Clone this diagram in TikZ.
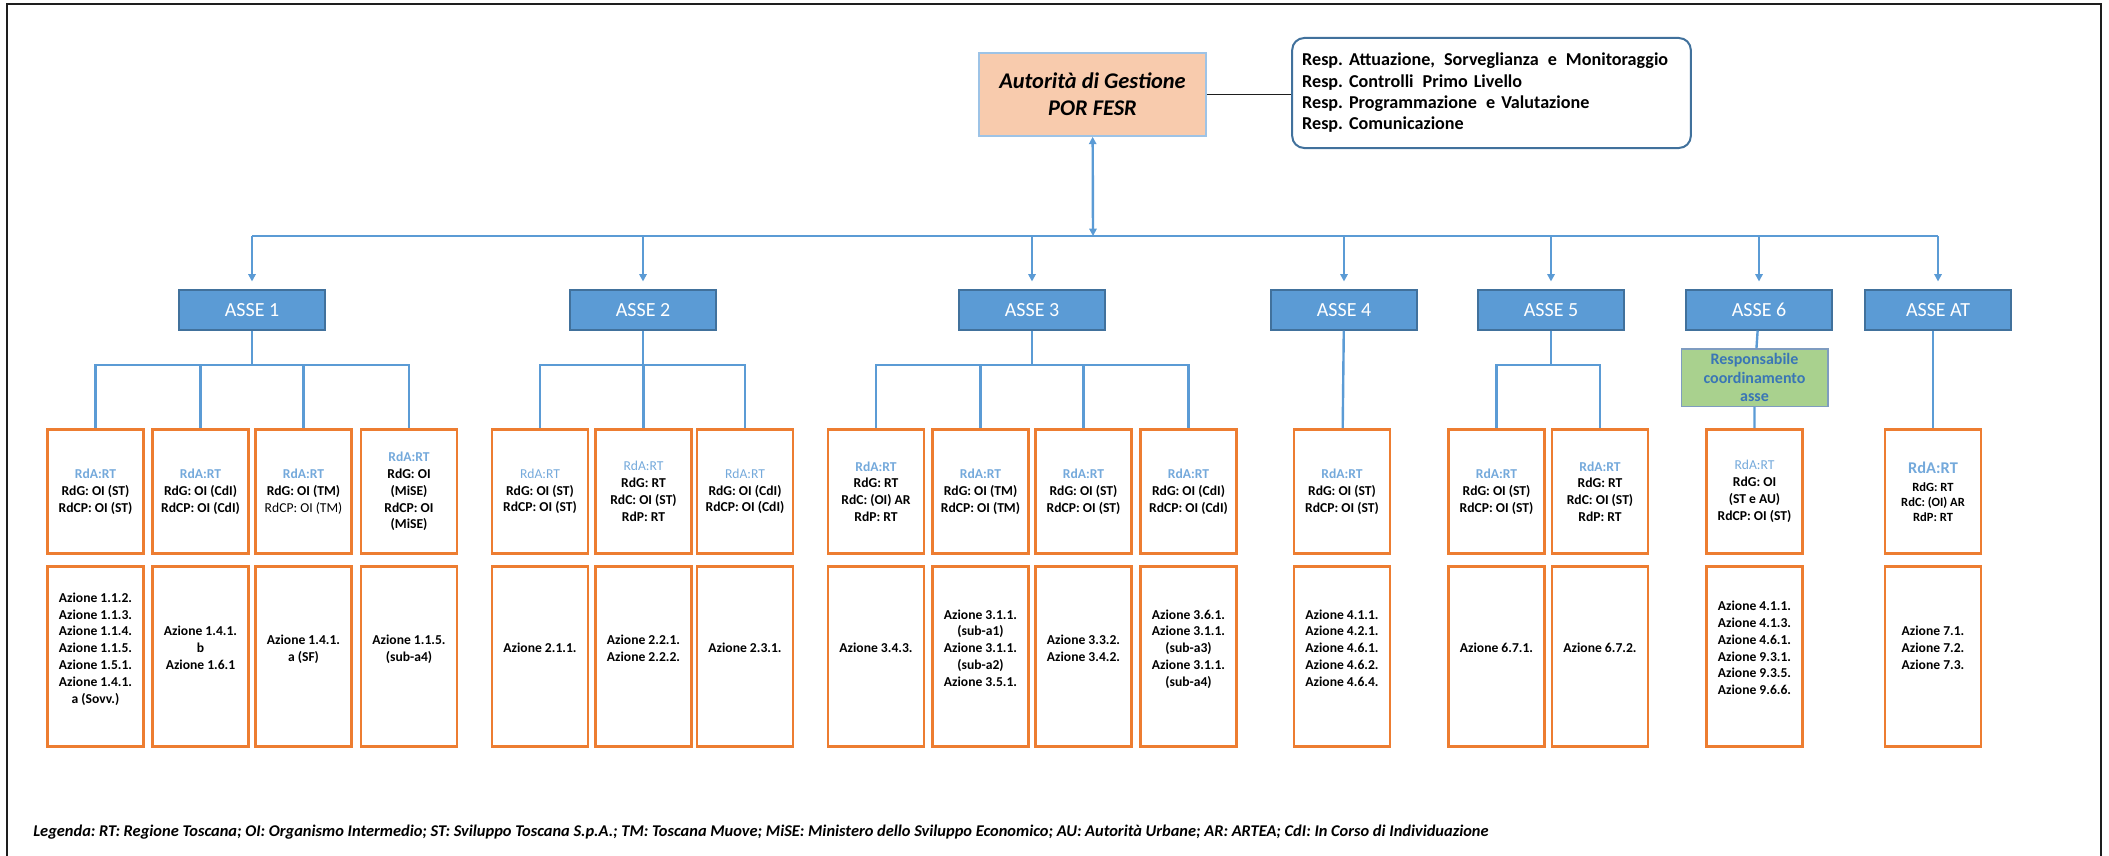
\documentclass[tikz,border=0pt]{standalone}
\usepackage{fontspec}
\setmainfont{Carlito}
\usetikzlibrary{arrows.meta}
\definecolor{lineblue}{HTML}{5B9BD5}
\definecolor{asseborder}{HTML}{41719C}
\definecolor{boxorange}{HTML}{ED7D31}
\definecolor{rdablue}{HTML}{74A9DB}
\definecolor{adgfill}{HTML}{F8CBAD}
\definecolor{adgborder}{HTML}{9DC3E6}
\definecolor{greenfill}{HTML}{A9D18E}
\definecolor{greenborder}{HTML}{7F9CC0}
\definecolor{greentext}{HTML}{3A76B5}
\definecolor{framegray}{HTML}{1E1E1E}
\frenchspacing
\newcommand{\rda}{\textcolor{rdablue}{RdA:RT}}
\newcommand{\rdalight}{\textcolor{rdablue}{\mdseries RdA:RT}}
\tikzset{link/.style={draw=lineblue, line width=1.8pt},
    asse/.style={draw=asseborder, fill=lineblue, text=white, line width=0.8pt,
        minimum width=109.5pt, minimum height=30pt, font=\fontsize{15}{18}\selectfont},
    rbox/.style={draw=boxorange, line width=2.2pt, minimum width=72pt, minimum height=93pt,
        inner sep=1pt, align=center, font=\bfseries\fontsize{10.2}{12.6}\selectfont},
    abox/.style={rbox, minimum height=135pt, text depth=13pt},
    }

\begin{document}
\begin{tikzpicture}[x=0.75pt,y=-0.75pt,>={Triangle[length=5.5pt,width=5.5pt]}]
	\useasboundingbox (0,0) rectangle (2109,856);
	\draw[framegray, line width=1.1pt] (7,856) -- (7,4) -- (2101,4) -- (2101,856);
	\tikzset{adg/.style={draw=adgborder, fill=adgfill, line width=1.5pt, minimum width=170pt,
	        minimum height=62pt, align=center, font=\bfseries\itshape\fontsize{16.8}{20.4}\selectfont},
	    resp/.style={draw=asseborder, line width=1.5pt, rounded corners=9pt, minimum height=82.5pt,
	        text width=284pt, inner xsep=7.5pt, align=left, font=\bfseries\fontsize{13.6}{16}\selectfont},
	    green/.style={draw=greenborder, fill=greenfill, line width=1pt, minimum width=110pt,
	        minimum height=43pt, inner sep=0pt, align=center, text=greentext,
	        font=\bfseries\fontsize{12}{13.8}\selectfont}}
	% vertice
	\node[adg] (adg) at (1092.5,94.5) {Autorità di Gestione\\POR FESR};
	\node[resp] (resp) at (1491.5,93) {Resp. Attuazione,\, Sorveglianza\, e\, Monitoraggio\\
		Resp. Controlli\, Primo Livello\\Resp. Programmazione\, e Valutazione\\Resp. Comunicazione};
	\draw[framegray, line width=0.8pt] (adg.east) -- (adg.east -| resp.west);
	% assi
	\node[asse] (asse1) at (252,310) {ASSE 1};
	\node[asse] (asse2) at (643,310) {ASSE 2};
	\node[asse] (asse3) at (1032,310) {ASSE 3};
	\node[asse] (asse4) at (1344,310) {ASSE 4};
	\node[asse] (asse5) at (1551,310) {ASSE 5};
	\node[asse] (asse6) at (1759,310) {ASSE 6};
	\node[asse] (asseAT) at (1938,310) {ASSE AT};
	\node[green] (resp6) at (1754.5,377.5) {Responsabile\\coordinamento\\asse};
	% RdA / RdG
	\node[rbox] (r11) at (95.5,491.5) {\rda\\RdG: OI (ST)\\RdCP: OI (ST)};
	\node[rbox] (r12) at (200.5,491.5) {\rda\\RdG: OI (CdI)\\RdCP: OI (CdI)};
	\node[rbox] (r13) at (303.5,491.5) {\rda\\RdG: OI (TM)\\{\mdseries RdCP: OI (TM)}};
	\node[rbox] (r14) at (409,491.5) {\rda\\RdG: OI\\(MiSE)\\RdCP: OI\\(MiSE)};
	\node[rbox] (r21) at (540,491.5) {\rdalight\\RdG: OI (ST)\\RdCP: OI (ST)};
	\node[rbox] (r22) at (643.5,491.5) {\rdalight\\RdG: RT\\RdC: OI (ST)\\RdP: RT};
	\node[rbox] (r23) at (745,491.5) {\rdalight\\RdG: OI (CdI)\\RdCP: OI (CdI)};
	\node[rbox] (r31) at (876,491.5) {\rda\\RdG: RT\\RdC: (OI) AR\\RdP: RT};
	\node[rbox] (r32) at (980.5,491.5) {\rda\\RdG: OI (TM)\\RdCP: OI (TM)};
	\node[rbox] (r33) at (1083.5,491.5) {\rda\\RdG: OI (ST)\\RdCP: OI (ST)};
	\node[rbox] (r34) at (1188.5,491.5) {\rda\\RdG: OI (CdI)\\RdCP: OI (CdI)};
	\node[rbox] (r41) at (1342,491.5) {\rda\\RdG: OI (ST)\\RdCP: OI (ST)};
	\node[rbox] (r51) at (1496.5,491.5) {\rda\\RdG: OI (ST)\\RdCP: OI (ST)};
	\node[rbox] (r52) at (1600,491.5) {\rda\\RdG: RT\\RdC: OI (ST)\\RdP: RT};
	\node[rbox] (r61) at (1754.5,491.5) {\rdalight\\RdG: OI\\(ST e AU)\\RdCP: OI (ST)};
	\node[rbox, font=\bfseries\fontsize{9.4}{11.3}\selectfont] (rAT) at (1933,491.5)
		{{\fontsize{12.3}{14}\selectfont\rda}\\[2pt]RdG: RT\\RdC: (OI) AR\\RdP: RT};
	% azioni
	\node[abox] (a11) at (95.5,656.5) {Azione 1.1.2.\\Azione 1.1.3.\\Azione 1.1.4.\\Azione 1.1.5.\\
		Azione 1.5.1.\\Azione 1.4.1.\\a (Sovv.)};
	\node[abox] (a12) at (200.5,656.5) {Azione 1.4.1.\\b\\Azione 1.6.1};
	\node[abox] (a13) at (303.5,656.5) {Azione 1.4.1.\\a (SF)};
	\node[abox] (a14) at (409,656.5) {Azione 1.1.5.\\(sub-a4)};
	\node[abox] (a21) at (540,656.5) {Azione 2.1.1.};
	\node[abox] (a22) at (643.5,656.5) {Azione 2.2.1.\\Azione 2.2.2.};
	\node[abox] (a23) at (745,656.5) {Azione 2.3.1.};
	\node[abox] (a31) at (876,656.5) {Azione 3.4.3.};
	\node[abox] (a32) at (980.5,656.5) {Azione 3.1.1.\\(sub-a1)\\Azione 3.1.1.\\(sub-a2)\\Azione 3.5.1.};
	\node[abox] (a33) at (1083.5,656.5) {Azione 3.3.2.\\Azione 3.4.2.};
	\node[abox] (a34) at (1188.5,656.5) {Azione 3.6.1.\\Azione 3.1.1.\\(sub-a3)\\Azione 3.1.1.\\(sub-a4)};
	\node[abox] (a41) at (1342,656.5) {Azione 4.1.1.\\Azione 4.2.1.\\Azione 4.6.1.\\Azione 4.6.2.\\Azione 4.6.4.};
	\node[abox] (a51) at (1496.5,656.5) {Azione 6.7.1.};
	\node[abox] (a52) at (1600,656.5) {Azione 6.7.2.};
	\node[abox] (a61) at (1754.5,656.5) {Azione 4.1.1.\\Azione 4.1.3.\\Azione 4.6.1.\\Azione 9.3.1.\\
		Azione 9.3.5.\\Azione 9.6.6.};
	\node[abox] (aAT) at (1933,656.5) {Azione 7.1.\\Azione 7.2.\\Azione 7.3.};
	% legenda
	\node[anchor=west, inner sep=0pt, font=\bfseries\itshape\fontsize{12.3}{14}\selectfont] (leg) at (33,832)
		{Legenda: RT: Regione Toscana; OI: Organismo Intermedio; ST: Sviluppo Toscana S.p.A.; TM: Toscana Muove; MiSE: Ministero dello Sviluppo Economico; AU: Autorità Urbane; AR: ARTEA; CdI: In Corso di Individuazione};
	% collegamenti
	\coordinate (bus) at (1093,236);
	\coordinate (sb) at (0,365);
	\draw[link, <->] (bus) -- (adg);
	\draw[link] (bus -| asse1) -- (bus -| asseAT);
	\draw[link, ->] (bus -| asse1) -- ([yshift=6pt]asse1.north);
	\draw[link, ->] (bus -| asse2) -- ([yshift=6pt]asse2.north);
	\draw[link, ->] (bus -| asse3) -- ([yshift=6pt]asse3.north);
	\draw[link, ->] (bus -| asse4) -- ([yshift=6pt]asse4.north);
	\draw[link, ->] (bus -| asse5) -- ([yshift=6pt]asse5.north);
	\draw[link, ->] (bus -| asse6) -- ([yshift=6pt]asse6.north);
	\draw[link, ->] (bus -| asseAT) -- ([yshift=6pt]asseAT.north);
	\draw[link] (asse1) -- (asse1 |- sb);
	\draw[link] (r11) -- (r11 |- sb) -- (r14 |- sb) -- (r14);
	\draw[link] (r12 |- sb) -- (r12);
	\draw[link] (r13 |- sb) -- (r13);
	\draw[link] (asse2) -- (asse2 |- sb);
	\draw[link] (r21) -- (r21 |- sb) -- (r23 |- sb) -- (r23);
	\draw[link] (r22 |- sb) -- (r22);
	\draw[link] (asse3) -- (asse3 |- sb);
	\draw[link] (r31) -- (r31 |- sb) -- (r34 |- sb) -- (r34);
	\draw[link] (r32 |- sb) -- (r32);
	\draw[link] (r33 |- sb) -- (r33);
	\draw[link] (asse4) -- (r41);
	\draw[link] (asse5) -- (asse5 |- sb);
	\draw[link] (r51) -- (r51 |- sb) -- (r52 |- sb) -- (r52);
	\draw[link] (asse6) -- (resp6) -- (r61);
	\draw[link] (rAT |- asseAT.south) -- (rAT);
\end{tikzpicture}
\end{document}
